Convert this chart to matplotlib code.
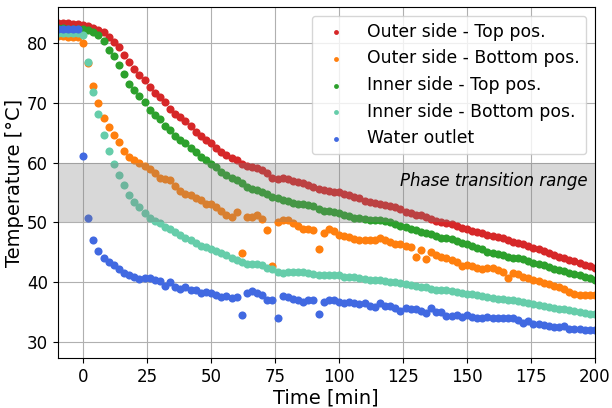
import numpy as np
import matplotlib
matplotlib.use('Agg')
import matplotlib.pyplot as plt

# time base [min], one reading every 2 min
time_min = np.arange(-10, 201, 2)

outer_top = [83.4, 83.3, 83.3, 83.2, 83.2, 83.1, 82.9, 82.6, 82.2, 81.8,
             81.0, 80.2, 79.3, 78.1, 76.8, 75.7, 74.7, 73.8, 72.6, 71.7,
             70.9, 70.2, 69.0, 68.2, 67.6, 66.9, 66.1, 65.2, 64.5, 63.8,
             63.2, 62.4, 61.8, 61.2, 60.7, 60.4, 59.7, 59.4, 59.3, 59.1,
             58.8, 58.3, 57.5, 57.3, 57.4, 57.2, 56.9, 56.7, 56.6, 56.2,
             55.95, 55.6, 55.4, 55.3, 55.15, 55.0, 54.8, 54.5, 54.3, 54.0,
             53.6, 53.4, 53.2, 53.1, 52.85, 52.7, 52.6, 52.25, 51.8, 51.55,
             51.3, 51.15, 50.85, 50.55, 50.25, 50.0, 49.85, 49.7, 49.35, 49.05,
             48.85, 48.6, 48.35, 48.2, 47.9, 47.7, 47.55, 47.35, 47.0, 46.75,
             46.5, 46.3, 46.05, 45.7, 45.45, 45.25, 44.85, 44.55, 44.25, 43.95,
             43.65, 43.5, 43.2, 42.85, 42.6, 42.3]

outer_bottom = [81.2, 81.2, 81.1, 81.1, 81.0, 80.1, 76.6, 72.9, 70.0, 67.5,
                66.0, 64.6, 63.4, 61.9, 61.0, 60.5, 60.0, 59.4, 58.9, 58.2,
                57.5, 57.3, 57.0, 56.0, 55.3, 54.8, 54.6, 54.1, 53.7, 53.0,
                53.1, 52.6, 51.9, 51.3, 50.9, 51.7, 44.8, 50.9, 50.9, 51.2,
                50.6, 48.7, 42.7, 50.05, 50.3, 50.45, 49.8, 49.3, 48.95, 48.8,
                48.7, 45.6, 48.2, 48.9, 48.6, 47.9, 47.7, 47.5, 47.2, 47.0,
                47.1, 47.0, 47.1, 47.3, 47.0, 46.7, 46.4, 46.3, 46.0, 45.9,
                44.2, 45.3, 43.9, 45.0, 44.5, 44.2, 44.1, 43.75, 43.35, 42.6,
                42.8, 42.6, 42.3, 42.2, 42.4, 42.3, 42.0, 41.75, 40.6, 41.5,
                41.3, 40.8, 40.6, 40.4, 40.1, 39.8, 39.6, 39.35, 39.2, 38.9,
                38.4, 38.0, 37.8, 37.8, 37.75, 37.8]

inner_top = [82.5, 82.5, 82.4, 82.4, 82.4, 82.3, 82.2, 81.9, 81.3, 80.3,
             78.9, 77.8, 76.4, 74.8, 73.2, 72.1, 71.1, 70.1, 68.8, 67.9,
             67.3, 66.2, 65.4, 64.5, 63.7, 63.2, 62.5, 61.7, 61.0, 60.4,
             59.7, 59.2, 58.5, 57.9, 57.4, 57.0, 56.5, 55.9, 55.65, 55.45,
             55.15, 54.7, 54.3, 54.0, 53.65, 53.5, 53.2, 53.1, 53.1, 52.85,
             52.65, 52.2, 51.95, 51.85, 51.75, 51.5, 51.3, 51.0, 50.8, 50.65,
             50.55, 50.45, 50.35, 50.3, 50.2, 50.0, 49.75, 49.45, 49.15, 48.9,
             48.65, 48.35, 48.2, 48.0, 47.7, 47.45, 47.35, 47.2, 46.85, 46.55,
             46.35, 46.1, 45.75, 45.45, 45.1, 44.9, 44.7, 44.5, 44.25, 44.1,
             43.95, 43.8, 43.55, 43.25, 43.0, 42.85, 42.45, 42.25, 42.0, 41.8,
             41.55, 41.4, 41.15, 40.85, 40.7, 40.4]

inner_bottom = [81.7, 81.7, 81.7, 81.7, 81.7, 81.3, 76.9, 71.9, 68.1, 64.7,
                61.9, 59.7, 57.9, 56.2, 54.5, 53.4, 52.5, 51.6, 50.8, 50.2,
                49.8, 49.2, 48.8, 48.3, 47.8, 47.4, 47.0, 46.6, 46.1, 45.8,
                45.5, 45.2, 44.8, 44.5, 44.1, 43.7, 43.4, 43.0, 43.0, 43.05,
                42.8, 42.4, 42.1, 41.7, 41.5, 41.7, 41.7, 41.7, 41.7, 41.5,
                41.4, 41.2, 41.1, 41.1, 41.1, 41.1, 40.9, 40.85, 40.8, 40.7,
                40.55, 40.4, 40.4, 40.3, 40.2, 40.0, 39.95, 39.85, 39.6, 39.45,
                39.3, 39.2, 39.1, 38.9, 38.7, 38.6, 38.6, 38.5, 38.3, 38.2,
                38.05, 37.95, 37.8, 37.65, 37.55, 37.35, 37.2, 37.1, 36.95, 36.95,
                36.8, 36.7, 36.45, 36.3, 36.15, 35.95, 35.85, 35.7, 35.55, 35.4,
                35.25, 35.1, 35.0, 34.8, 34.7, 34.6]

water_outlet = [82.4, 82.4, 82.4, 82.4, 82.4, 61.1, 50.7, 47.0, 45.2, 44.0,
                43.3, 42.8, 42.1, 41.5, 41.1, 40.8, 40.5, 40.6, 40.6, 40.3,
                40.2, 39.4, 40.0, 39.1, 38.9, 39.2, 38.6, 38.7, 38.1, 38.3,
                38.2, 37.8, 37.5, 37.7, 37.3, 37.5, 34.4, 38.1, 38.5, 38.1,
                37.8, 36.9, 36.9, 33.9, 37.6, 37.5, 37.2, 37.0, 36.7, 36.9,
                37.0, 34.7, 36.7, 37.0, 37.0, 36.6, 36.5, 36.6, 36.4, 36.3,
                36.4, 36.0, 35.8, 36.4, 36.0, 35.9, 35.7, 35.2, 35.6, 35.4,
                35.4, 35.2, 34.8, 35.7, 35.0, 35.0, 34.3, 34.3, 34.4, 34.1,
                34.4, 34.1, 34.0, 34.0, 34.2, 34.0, 33.9, 33.9, 33.9, 34.0,
                33.6, 33.2, 33.5, 33.0, 33.0, 32.8, 32.6, 32.5, 32.5, 32.6,
                32.2, 32.1, 32.2, 32.0, 31.9, 31.9]

series = [
    ("Outer side - Top pos.", outer_top, "tab:red"),
    ("Outer side - Bottom pos.", outer_bottom, "tab:orange"),
    ("Inner side - Top pos.", inner_top, "tab:green"),
    ("Inner side - Bottom pos.", inner_bottom, "mediumaquamarine"),
    ("Water outlet", water_outlet, "royalblue"),
]

fig = plt.figure(figsize=(6.12, 4.08), dpi=100)
ax = fig.add_axes([0.094, 0.123, 0.878, 0.859])

for label, vals, color in series:
    assert len(vals) == len(time_min), label
    ax.scatter(time_min, vals, s=34, color=color, linewidths=0, label=label, zorder=2)

# phase change band drawn over the points
ax.axhspan(50, 60, color="gray", alpha=0.3, linewidth=0, zorder=3)
ax.text(197, 56.9, "Phase transition range", style="italic", fontsize=12,
        ha="right", va="center", zorder=4)

ax.set_xlim(-10, 200)
ax.set_ylim(27.3, 86)
ax.set_xticks([0, 25, 50, 75, 100, 125, 150, 175, 200])
ax.set_yticks([30, 40, 50, 60, 70, 80])
ax.tick_params(labelsize=12)
ax.grid(True, zorder=0)
ax.set_axisbelow(True)
ax.set_xlabel("Time [min]", fontsize=14, labelpad=2)
ax.set_ylabel("Temperature [°C]", fontsize=14, labelpad=2)
ax.legend(loc="upper right", fontsize=12.4, markerscale=0.6, handlelength=2.0)

fig.savefig("out.png", dpi=100)
